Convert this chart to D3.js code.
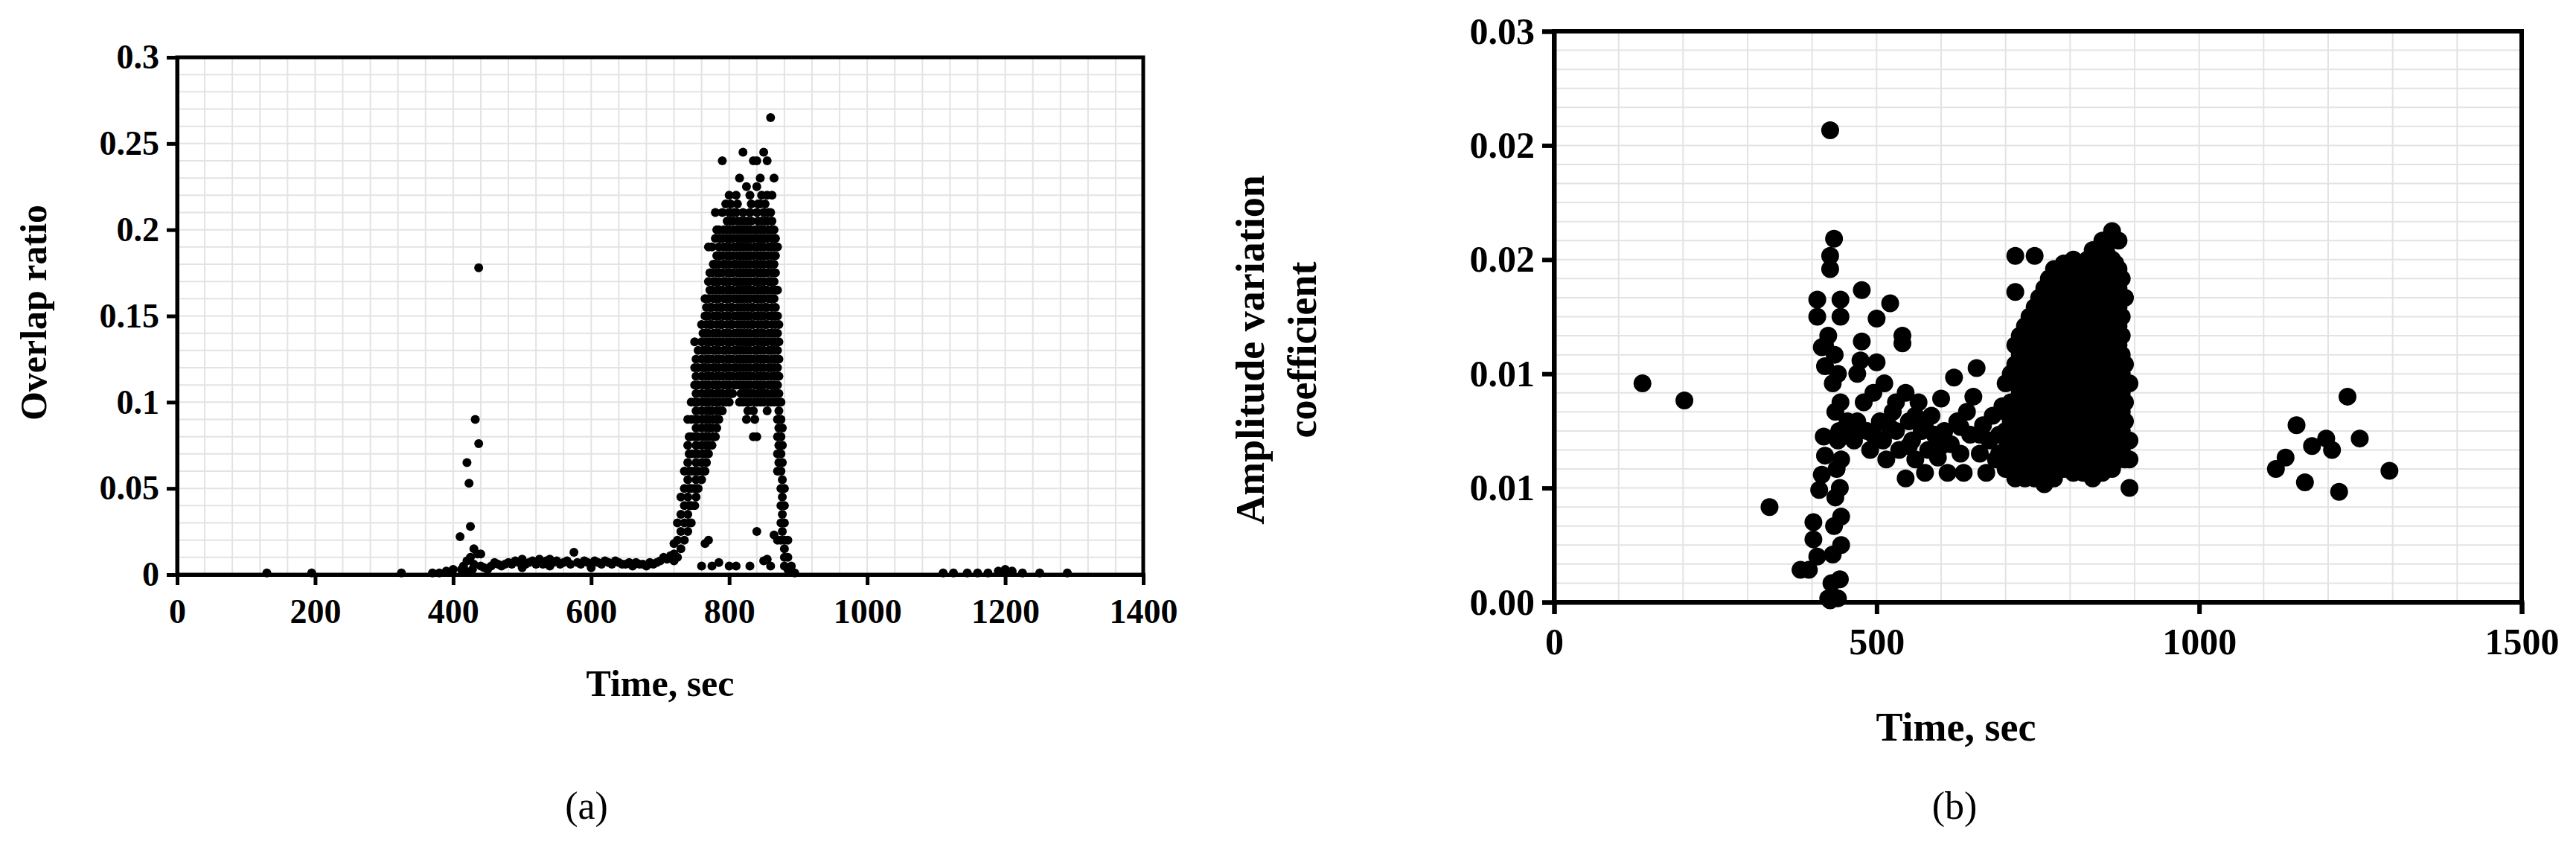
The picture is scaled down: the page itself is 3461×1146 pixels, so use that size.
<!DOCTYPE html>
<html><head><meta charset="utf-8">
<script src="https://cdn.jsdelivr.net/npm/d3@7"></script>
<style>body{margin:0;background:#fff}svg{display:block}text{font-family:"Liberation Serif","Times New Roman",serif}</style>
</head><body>
<script>
// ---- chart (a): overlap ratio ----
const xTicksA = [0, 200, 400, 600, 800, 1000, 1200, 1400];
const yTicksA = [0, 0.05, 0.1, 0.15, 0.2, 0.25, 0.3];
const yLabelsA = ["0", "0.05", "0.1", "0.15", "0.2", "0.25", "0.3"];
const sparseA = [[130,.001],[195,.001],[325,.001],[370,.001],[380,.001],[390,.002],[400,.003],
  [1110,.001],[1125,.001],[1145,.001],[1160,.001],[1175,.001],[1190,.002],[1200,.003],[1210,.002],[1225,.001],[1250,.001],[1290,.001]];
const spikeA = [[410,.022],[420,.065],[423,.053],[425,.028],[432,.09],[437,.076],[437,.178],[430,.015],[440,.012],
  [415,.005],[420,.008],[425,.01],[430,.006],[435,.012],[440,.005],[445,.004],[428,.003],[418,.002],[450,.003],[412,.003]];
const plateauA = [[455,.005],[465,.006],[470,.005],[480,.007],[490,.008],[500,.009],[505,.006],[515,.008],[525,.009],[530,.006],
  [540,.009],[550,.008],[555,.006],[565,.008],[575,.013],[580,.007],[590,.008],[600,.006],[610,.007],[620,.008],[630,.006],
  [640,.007],[650,.006],[660,.005],[670,.006],[680,.005],[690,.006],[700,.008],[705,.01],[710,.009],[715,.011],[500,.004],[540,.005],[600,.004],
  [460,.007],[475,.006],[485,.006],[495,.007],[510,.007],[520,.006],[535,.008],[545,.007],[560,.007],[570,.006],[585,.006],[595,.007],
  [605,.008],[615,.006],[625,.007],[635,.008],[645,.006],[655,.007],[665,.007],[675,.006],[685,.007],[695,.007]];
const peakColsA = [
  [720,[.008,.012,.018]],[725,[.01,.02,.03]],[730,[.015,.025,.035,.045]],[735,[.02,.03,.04,.05,.06]],
  [740,[.025,.035,.045,.055,.065,.075,.09]],[745,[.03,.04,.05,.06,.07,.08,.09,.10]],
  [750,[.04,.05,.06,.07,.08,.09,.10,.11,.12,.135]],[755,[.05,.06,.07,.08,.09,.10,.11,.12,.13]],
  [760,[.055,.065,.075,.085,.095,.105,.115,.125,.135,.145]],[765,[.06,.07,.08,.09,.10,.11,.12,.13,.14,.15,.16]],
  [770,[.07,.08,.09,.10,.11,.12,.13,.14,.15,.16,.17,.19]],[775,[.075,.085,.095,.105,.115,.125,.135,.145,.155,.165,.175,.19]],
  [780,[.08,.09,.10,.11,.12,.13,.14,.15,.16,.17,.18,.195,.21]],[785,[.09,.10,.11,.12,.13,.14,.15,.16,.17,.18,.19,.20]],
  [790,[.095,.105,.115,.125,.135,.145,.155,.165,.175,.185,.195,.21,.24]],[795,[.10,.11,.12,.13,.14,.15,.16,.17,.18,.19,.20,.215]],
  [800,[.10,.11,.12,.13,.14,.15,.16,.17,.18,.19,.20,.21,.22]],[805,[.105,.115,.125,.135,.145,.155,.165,.175,.185,.195,.205]],
  [810,[.11,.12,.13,.14,.15,.16,.17,.18,.19,.20,.21,.22]],[815,[.10,.11,.12,.13,.14,.15,.16,.17,.18,.19,.20,.23]],
  [820,[.10,.11,.12,.13,.14,.15,.16,.17,.18,.19,.20,.21,.245]],[825,[.09,.10,.11,.12,.13,.14,.15,.16,.17,.18,.19,.20,.225]],
  [830,[.10,.11,.12,.13,.14,.15,.16,.17,.18,.19,.20,.21,.22]],[835,[.08,.095,.105,.115,.125,.135,.145,.155,.165,.175,.185,.195,.24]],
  [840,[.08,.10,.11,.12,.13,.14,.15,.16,.17,.18,.19,.20,.21,.225,.24]],[845,[.10,.11,.12,.13,.14,.15,.16,.17,.18,.19,.20,.215,.23]],
  [850,[.10,.11,.12,.13,.14,.15,.16,.17,.18,.19,.20,.21,.245]],[855,[.095,.105,.115,.125,.135,.145,.155,.165,.175,.185,.195,.205,.22,.24]],
  [860,[.10,.11,.12,.13,.14,.15,.16,.17,.18,.19,.20,.21,.265]],[865,[.10,.11,.12,.13,.14,.15,.16,.17,.18,.19,.20,.23]],
  [870,[.06,.07,.08,.09,.10,.11,.12,.13,.14,.15,.165,.19]],[875,[.02,.03,.04,.05,.06,.07,.08,.09,.10]],
  [880,[.005,.01,.015,.02,.03,.04,.05]],[885,[.003,.01,.02]],[890,[.002,.005]],[895,[.001]]];
// in-between readings of the dense core
const peakFillA = [
  [742,[.03,.04,.05,.06,.07,.08]],[752,[.045,.055,.065,.075,.085,.095,.105,.115,.125]],
  [762,[.06,.07,.08,.09,.10,.11,.12,.13,.14]],[767,[.065,.075,.085,.095,.105,.115,.125,.135,.145,.155]],
  [772,[.075,.085,.095,.105,.115,.125,.135,.145,.155,.165,.175]],[777,[.08,.09,.10,.11,.12,.13,.14,.15,.16,.17,.18]],
  [782,[.085,.095,.105,.115,.125,.135,.145,.155,.165,.175,.185,.20]],[787,[.095,.105,.115,.125,.135,.145,.155,.165,.175,.185,.195]],
  [792,[.10,.11,.12,.13,.14,.15,.16,.17,.18,.19,.20]],[797,[.105,.115,.125,.135,.145,.155,.165,.175,.185,.195,.205]],
  [802,[.105,.115,.125,.135,.145,.155,.165,.175,.185,.195,.205,.215]],[807,[.11,.12,.13,.14,.15,.16,.17,.18,.19,.20,.21]],
  [812,[.115,.125,.135,.145,.155,.165,.175,.185,.195,.205,.215]],[817,[.105,.115,.125,.135,.145,.155,.165,.175,.185,.195,.205]],
  [822,[.105,.115,.125,.135,.145,.155,.165,.175,.185,.195,.205]],[827,[.095,.105,.115,.125,.135,.145,.155,.165,.175,.185,.195,.205]],
  [832,[.105,.115,.125,.135,.145,.155,.165,.175,.185,.195,.205,.215]],[837,[.09,.10,.11,.12,.13,.14,.15,.16,.17,.18,.19,.20]],
  [842,[.105,.115,.125,.135,.145,.155,.165,.175,.185,.195,.205,.215]],[847,[.105,.115,.125,.135,.145,.155,.165,.175,.185,.195,.205,.22]],
  [852,[.105,.115,.125,.135,.145,.155,.165,.175,.185,.195,.205,.215]],[857,[.10,.11,.12,.13,.14,.15,.16,.17,.18,.19,.20,.21]],
  [862,[.105,.115,.125,.135,.145,.155,.165,.175,.185,.195,.205,.22]],[867,[.105,.115,.125,.135,.145,.155,.165,.175,.185,.195]],
  [872,[.065,.075,.085,.095,.105,.115,.125,.135,.145]],[877,[.025,.035,.045,.055,.065,.075,.085]]];
const lowA = [[760,.005],[765,.018],[770,.02],[775,.005],[785,.007],[800,.005],[810,.005],[830,.005],[840,.025],[850,.008],[855,.009],[860,.005],[865,.023],[870,.02]];

// ---- chart (b): amplitude variation coefficient ----
const xTicksB = [0, 500, 1000, 1500];
const yTicksB = [0, 0.006, 0.012, 0.018, 0.024, 0.03];
const yLabelsB = ["0.00", "0.01", "0.01", "0.02", "0.02", "0.03"];
const sparseB = [[137,.0115],[202,.0106],[334,.005],[382,.0017],[395,.0017],
  [1119,.007],[1134,.0076],[1151,.0093],[1164,.0063],[1175,.0082],[1197,.0086],[1206,.008],[1217,.0058],[1230,.0108],[1249,.0086],[1295,.0069]];
const columnB = [[402,.0042],[402,.0033],[408,.0024],[411,.0059],[415,.0067],[420,.0077],[418,.0087],[425,.0002],[428,.0001],[430,.001],
  [432,.0025],[434,.004],[436,.0055],[438,.007],[440,.0085],[436,.01],[432,.0115],[440,.0002],[443,.0012],[445,.003],[445,.0045],
  [443,.006],[445,.0075],[442,.009],[444,.0105],[440,.012],[420,.0124],[415,.0134],[428,.0248],[434,.0191],[428,.0182],[428,.0175],
  [408,.0159],[444,.0159],[408,.015],[444,.015],[425,.014],[420,.0135],[435,.013]];
const middleB = [[455,.0095],[465,.0085],[470,.012],[477,.0164],[477,.0137],[475,.0127],[480,.0105],[485,.009],[490,.008],[495,.011],
  [500,.0149],[500,.0126],[505,.0095],[510,.0085],[512,.0115],[515,.0075],[521,.0157],[525,.01],[530,.009],[535,.008],[540,.014],
  [540,.0136],[545,.0065],[545,.011],[550,.0095],[555,.0085],[560,.0075],[565,.0105],[570,.009],[575,.0068],[580,.008],[585,.0098],
  [590,.0088],[595,.0076],[600,.0107],[605,.009],[610,.0068],[615,.0083],[620,.0118],[625,.0095],[630,.0078],[635,.0068],[640,.01],
  [645,.0088],[650,.0108],[655,.0123],[660,.0078],[665,.0093],[670,.0068],[675,.0085],[680,.0098],[685,.0075],[690,.0088],[695,.0103],
  [460,.009],[470,.0095],[495,.0088],[520,.0092],[530,.0105],[550,.0082],[560,.0098],[575,.0092],[600,.0082],[630,.0092],[660,.0088],[690,.0078]];
const clusterColsB = [
  [700,[.007,.008,.009,.010,.0115]],[715,[.0065,.0075,.0085,.0095,.0105,.0115,.0125,.0135,.0163,.0182]],
  [730,[.0065,.0075,.0085,.0095,.0105,.0115,.0125,.0135,.0145]],[745,[.0065,.0075,.0085,.0095,.0105,.0115,.0125,.0135,.0145,.0155,.0182]],
  [760,[.0062,.0072,.0082,.0092,.0102,.0112,.0122,.0132,.0142,.0152,.0165]],[775,[.0065,.0075,.0085,.0095,.0105,.0115,.0125,.0135,.0145,.0155,.0165,.0175]],
  [790,[.007,.008,.009,.010,.011,.012,.013,.014,.015,.016,.017,.0178]],[805,[.0068,.0078,.0088,.0098,.0108,.0118,.0128,.0138,.0148,.0158,.0168,.018]],
  [820,[.0068,.0078,.0088,.0098,.0108,.0118,.0128,.0138,.0148,.0158,.0168,.0178]],[835,[.0065,.0075,.0085,.0095,.0105,.0115,.0125,.0135,.0145,.0155,.0165,.0175,.0185]],
  [850,[.0068,.0078,.0088,.0098,.0108,.0118,.0128,.0138,.0148,.0158,.0168,.0178,.019]],[865,[.007,.008,.009,.010,.011,.012,.013,.014,.015,.016,.017,.018,.0195]],
  [875,[.0075,.0085,.0095,.0105,.0115,.0125,.0135,.0145,.0155,.0165,.0175,.019]],[885,[.0075,.0085,.0095,.0105,.0115,.0125,.016]],
  [892,[.006,.0075,.0085,.0115]]];
const clusterFillB = [
  [708,[.0075,.0085,.0095,.0105,.012]],[722,[.007,.008,.009,.010,.011,.012,.013,.014]],
  [737,[.007,.008,.009,.010,.011,.012,.013,.014,.015]],[752,[.007,.008,.009,.010,.011,.012,.013,.014,.015,.016]],
  [767,[.007,.008,.009,.010,.011,.012,.013,.014,.015,.016,.017]],[782,[.007,.008,.009,.010,.011,.012,.013,.014,.015,.016,.017]],
  [797,[.0073,.0083,.0093,.0103,.0113,.0123,.0133,.0143,.0153,.0163,.0173]],[812,[.0073,.0083,.0093,.0103,.0113,.0123,.0133,.0143,.0153,.0163,.0173]],
  [827,[.007,.008,.009,.010,.011,.012,.013,.014,.015,.016,.017,.018]],[842,[.0072,.0082,.0092,.0102,.0112,.0122,.0132,.0142,.0152,.0162,.0172,.0182]],
  [857,[.0073,.0083,.0093,.0103,.0113,.0123,.0133,.0143,.0153,.0163,.0173,.0183,.0188]],[870,[.0078,.0088,.0098,.0108,.0118,.0128,.0138,.0148,.0158,.0168,.0178]],
  [880,[.008,.009,.010,.011,.012,.013,.014,.015,.017]]];

const W = 3461, H = 1146;
const svg = d3.select('body').append('svg').attr('width', W).attr('height', H);

function flatCols(cols) {
  const out = [];
  cols.forEach(([x, ys]) => ys.forEach(y => out.push([x, y])));
  return out;
}

function panel(o) {
  const x = d3.scaleLinear().domain(o.xDomain).range([o.left, o.right]);
  const y = d3.scaleLinear().domain(o.yDomain).range([o.bottom, o.top]);
  const g = svg.append('g');
  // minor grid
  g.selectAll('.gx').data(d3.range(o.xDomain[0], o.xDomain[1] + 1e-9, o.gridX)).enter().append('line')
    .attr('x1', d => x(d)).attr('x2', d => x(d)).attr('y1', o.top).attr('y2', o.bottom)
    .attr('stroke', '#e3e3e3').attr('stroke-width', 2);
  g.selectAll('.gy').data(d3.range(o.yDomain[0], o.yDomain[1] + 1e-9, o.gridY)).enter().append('line')
    .attr('y1', d => y(d)).attr('y2', d => y(d)).attr('x1', o.left).attr('x2', o.right)
    .attr('stroke', '#e3e3e3').attr('stroke-width', 2);
  // points
  g.selectAll('circle').data(o.points).enter().append('circle')
    .attr('cx', d => x(d[0])).attr('cy', d => y(d[1])).attr('r', o.r).attr('fill', '#000');
  // frame
  g.append('rect').attr('x', o.left).attr('y', o.top).attr('width', o.right - o.left).attr('height', o.bottom - o.top)
    .attr('fill', 'none').attr('stroke', '#000').attr('stroke-width', o.frame);
  const xa = g.append('g').attr('transform', `translate(0,${o.bottom})`)
    .call(d3.axisBottom(x).tickValues(o.xTicks).tickSize(o.tick).tickPadding(18).tickFormat(d3.format('d')));
  const ya = g.append('g').attr('transform', `translate(${o.left},0)`)
    .call(d3.axisLeft(y).tickValues(o.yTicks).tickSize(o.tick).tickPadding(10).tickFormat((d, i) => o.yLabels[i]));
  [xa, ya].forEach(a => {
    a.select('.domain').attr('stroke-width', o.frame);
    a.selectAll('line').attr('stroke-width', o.frame);
    a.selectAll('text').attr('font-size', o.fs).attr('font-weight', 'bold')
      .attr('font-family', '"Liberation Serif", serif').attr('fill', '#000');
  });
  g.append('text').attr('x', (o.left + o.right) / 2 + o.xTitleDx).attr('y', o.xTitleY).attr('text-anchor', 'middle')
    .attr('font-size', o.fs + 4).attr('font-weight', 'bold').text('Time, sec');
  o.yTitle.forEach((t, i) => {
    g.append('text').attr('transform', `translate(${o.yTitleX[i]},${o.yTitleCY}) rotate(-90)`)
      .attr('text-anchor', 'middle').attr('font-size', o.fs + 4).attr('font-weight', 'bold').text(t);
  });
  g.append('text').attr('x', o.capX).attr('y', 1100).attr('text-anchor', 'middle').attr('font-size', 52).text(o.cap);
}

panel({
  xDomain: [0, 1400], yDomain: [0, 0.3], left: 238, right: 1536, top: 77, bottom: 772,
  gridX: 40, gridY: 0.01, r: 6, frame: 5, tick: 14, fs: 46,
  xTicks: xTicksA, yTicks: yTicksA, yLabels: yLabelsA,
  points: sparseA.concat(spikeA, plateauA, flatCols(peakColsA), flatCols(peakFillA), lowA),
  xTitleDx: 0, xTitleY: 935, yTitle: ['Overlap ratio'], yTitleX: [62], yTitleCY: 420,
  cap: '(a)', capX: 788
});

panel({
  xDomain: [0, 1500], yDomain: [0, 0.03], left: 2088, right: 3388, top: 42, bottom: 809,
  gridX: 100, gridY: 0.001, r: 12, frame: 6, tick: 16, fs: 50,
  xTicks: xTicksB, yTicks: yTicksB, yLabels: yLabelsB,
  points: sparseB.concat(columnB, middleB, flatCols(clusterColsB), flatCols(clusterFillB)),
  xTitleDx: -110, xTitleY: 995, yTitle: ['Amplitude variation', 'coefficient'], yTitleX: [1698, 1768], yTitleCY: 470,
  cap: '(b)', capX: 2626
});
</script>
</body></html>
